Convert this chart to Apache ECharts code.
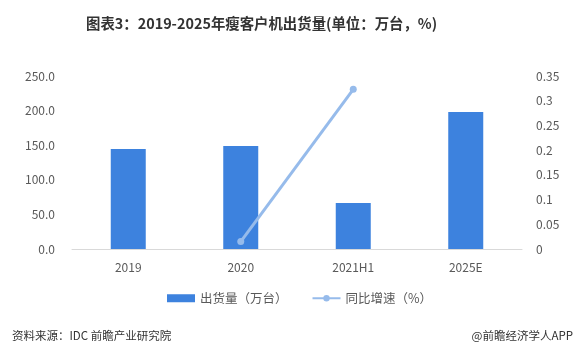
<!DOCTYPE html>
<html>
<head>
<meta charset="utf-8">
<script src="https://cdn.jsdelivr.net/npm/echarts@6/dist/echarts.min.js"></script>
<style>
  html, body { margin: 0; padding: 0; background: #fff; }
  #chart { width: 583px; height: 353px; }
</style>
</head>
<body>
<div id="chart"></div>
<script>
const categories = ["2019", "2020", "2021H1", "2025E"];
const shipments = [144.5, 149, 66.5, 198];
const growth = [null, 0.015, 0.323, null];
const leftTicks = { min: 0, max: 250, interval: 50 };
const rightTicks = { min: 0, max: 0.35, interval: 0.05 };

const font = '"Noto Sans CJK SC", "Noto Sans", sans-serif';
const chart = echarts.init(document.getElementById("chart"));

chart.setOption({
  animation: false,
  textStyle: { fontFamily: font },
  title: [
    {
      text: "图表3：2019-2025年瘦客户机出货量(单位：万台，%)",
      left: 81,
      top: 11,
      textStyle: { fontSize: 14.4, fontWeight: "bold", color: "#333", fontFamily: font },
    },
    {
      text: "资料来源：IDC 前瞻产业研究院",
      left: 7,
      top: 325,
      textStyle: { fontSize: 11.5, fontWeight: "normal", color: "#333", fontFamily: font },
    },
    {
      text: "@前瞻经济学人APP",
      right: 5,
      top: 325,
      textStyle: { fontSize: 11.5, fontWeight: "normal", color: "#333", fontFamily: font },
    },
  ],
  legend: {
    top: 287,
    left: 162,
    itemWidth: 28,
    itemHeight: 8,
    itemGap: 24,
    textStyle: { fontSize: 12.5, color: "#595959", fontFamily: font },
    data: [
      { name: "出货量（万台）", icon: "rect" },
      { name: "同比增速（%）" },
    ],
  },
  grid: { left: 72, right: 61, top: 76, bottom: 104 },
  xAxis: {
    type: "category",
    data: categories,
    axisLine: { lineStyle: { color: "#d9d9d9" } },
    axisTick: { show: false },
    axisLabel: { color: "#595959", fontSize: 12, margin: 12 },
  },
  yAxis: [
    {
      type: "value",
      min: leftTicks.min,
      max: leftTicks.max,
      interval: leftTicks.interval,
      splitLine: { show: false },
      axisLine: { show: false },
      axisLabel: {
        color: "#595959",
        fontSize: 12,
        margin: 17,
        formatter: (v) => v.toFixed(1),
      },
    },
    {
      type: "value",
      min: rightTicks.min,
      max: rightTicks.max,
      interval: rightTicks.interval,
      splitLine: { show: false },
      axisLine: { show: false },
      axisLabel: {
        color: "#595959",
        fontSize: 12,
        margin: 14,
        formatter: (v) => String(+v.toFixed(2)),
      },
    },
  ],
  series: [
    {
      name: "出货量（万台）",
      type: "bar",
      data: shipments,
      barWidth: 35,
      itemStyle: { color: "#3d82de" },
    },
    {
      name: "同比增速（%）",
      type: "line",
      yAxisIndex: 1,
      data: growth,
      symbol: "circle",
      symbolSize: 7,
      lineStyle: { color: "#96bbeb", width: 3 },
      itemStyle: { color: "#96bbeb" },
    },
  ],
});
</script>
</body>
</html>
